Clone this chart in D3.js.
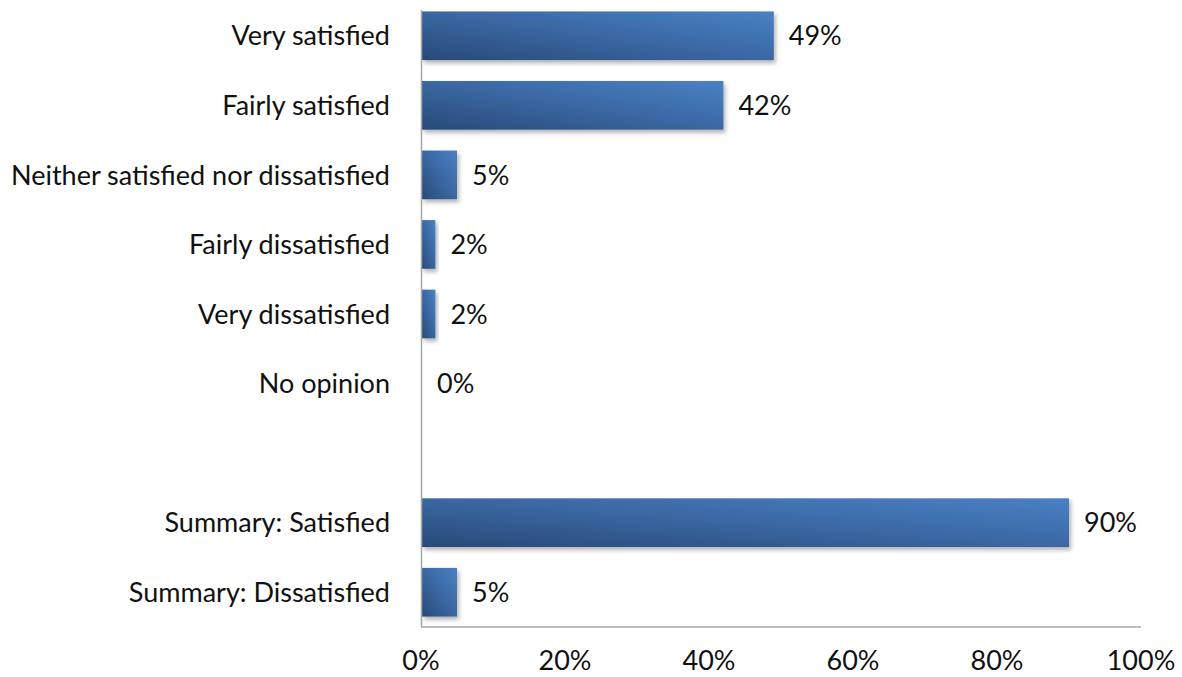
<!DOCTYPE html>
<html>
<head>
<meta charset="utf-8">
<script src="https://cdn.jsdelivr.net/npm/d3@7"></script>
<style>
  html, body { margin: 0; padding: 0; background: #fff; }
  svg { display: block; }
  text { font-family: Lato, "Open Sans", sans-serif; fill: #111; }
</style>
</head>
<body>
<svg id="chart" width="1182" height="677"></svg>
<script>
// Survey responses (percent); the blank slot separates the summary rows
const categories = [
  "Very satisfied",
  "Fairly satisfied",
  "Neither satisfied nor dissatisfied",
  "Fairly dissatisfied",
  "Very dissatisfied",
  "No opinion",
  "",
  "Summary: Satisfied",
  "Summary: Dissatisfied"
];
const values = [49, 42, 5, 2, 2, 0, null, 90, 5];
const xTicks = [0, 20, 40, 60, 80, 100];

const svg = d3.select("#chart");
const plotLeft = 421, plotRight = 1141, plotTop = 1, plotBottom = 627;
const fontSize = 27;

const x = d3.scaleLinear().domain([0, 100]).range([plotLeft, plotRight]);
const y = d3.scaleBand().domain(d3.range(categories.length))
  .range([plotTop, plotBottom]).paddingInner(0.3).paddingOuter(0.15);

const defs = svg.append("defs");
const grad = defs.append("linearGradient").attr("id", "barGrad")
  .attr("x1", 0).attr("y1", 1).attr("x2", 1).attr("y2", 0);
grad.append("stop").attr("offset", "0%").attr("stop-color", "#284a78");
grad.append("stop").attr("offset", "55%").attr("stop-color", "#3c6aa6");
grad.append("stop").attr("offset", "100%").attr("stop-color", "#4a80c5");

const shadow = defs.append("filter").attr("id", "shadow")
  .attr("x", "-10%").attr("y", "-20%").attr("width", "130%").attr("height", "150%");
shadow.append("feDropShadow").attr("dx", 2).attr("dy", 3)
  .attr("stdDeviation", 2).attr("flood-color", "#000").attr("flood-opacity", 0.3);

const rows = categories.map((c, i) => ({ c, v: values[i], i }));

// bars
svg.append("g").selectAll("rect")
  .data(rows.filter(d => d.v !== null && d.v > 0))
  .join("rect")
  .attr("x", x(0) + 1)
  .attr("y", d => y(d.i))
  .attr("width", d => x(d.v) - x(0) - 1)
  .attr("height", y.bandwidth())
  .attr("fill", "url(#barGrad)")
  .attr("filter", "url(#shadow)");

// axis lines
svg.append("line").attr("x1", plotLeft + 0.5).attr("x2", plotLeft + 0.5)
  .attr("y1", 10).attr("y2", plotBottom).attr("stroke", "#a6a6a6").attr("stroke-width", 1.5);
svg.append("line").attr("x1", plotLeft).attr("x2", plotRight)
  .attr("y1", plotBottom).attr("y2", plotBottom).attr("stroke", "#a6a6a6").attr("stroke-width", 1.5);

// category labels
svg.append("g").selectAll("text")
  .data(rows.filter(d => d.c))
  .join("text")
  .attr("x", plotLeft - 31)
  .attr("y", d => y(d.i) + y.bandwidth() / 2)
  .attr("dy", "0.36em")
  .attr("text-anchor", "end")
  .attr("font-size", fontSize)
  .text(d => d.c);

// value labels
svg.append("g").selectAll("text")
  .data(rows.filter(d => d.v !== null))
  .join("text")
  .attr("x", d => x(d.v) + (d.v > 0 ? 15 : 16))
  .attr("y", d => y(d.i) + y.bandwidth() / 2)
  .attr("dy", "0.36em")
  .attr("font-size", fontSize)
  .text(d => d.v + "%");

// x tick labels
svg.append("g").selectAll("text")
  .data(xTicks)
  .join("text")
  .attr("x", d => x(d))
  .attr("y", 670)
  .attr("text-anchor", "middle")
  .attr("font-size", fontSize)
  .text(d => d + "%");
</script>
</body>
</html>
